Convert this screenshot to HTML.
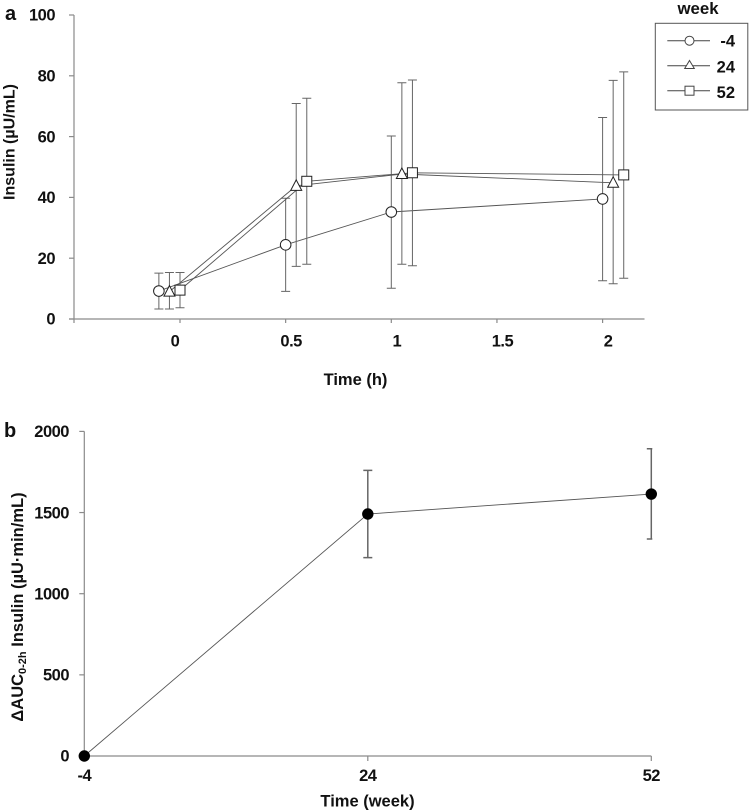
<!DOCTYPE html>
<html lang="en">
<head>
<meta charset="utf-8">
<title>Insulin over time</title>
<style>
html,body{margin:0;padding:0;background:#fff;width:750px;height:812px;overflow:hidden}
svg{display:block;position:absolute;left:0;top:0;filter:blur(0.35px)}
text{font-family:"Liberation Sans",sans-serif;font-weight:bold;fill:#111}
.tick-text{letter-spacing:-0.5px}
</style>
</head>
<body>
<svg id="fig" width="750" height="812" viewBox="0 0 750 812" xmlns="http://www.w3.org/2000/svg">
  <text x="5" y="20" font-size="20">a</text>
  <text x="4" y="437" font-size="20">b</text>
  <text x="355.5" y="385" font-size="16.5" text-anchor="middle">Time (h)</text>
  <text transform="translate(14.5,142) rotate(-90)" font-size="16" text-anchor="middle">Insulin (µU/mL)</text>
  <text x="367.5" y="806.5" font-size="16.5" text-anchor="middle">Time (week)</text>
  <text transform="translate(23,607) rotate(-90)" font-size="16.5" text-anchor="middle">ΔAUC<tspan font-size="11" dy="3">0-2h</tspan><tspan dy="-3"> Insulin (µU·min/mL)</tspan></text>

  <g>
    <text x="698" y="14" font-size="16.8" text-anchor="middle">week</text>
    <rect x="655.3" y="23.3" width="92.5" height="86.7" fill="#fff" stroke="#555" stroke-width="1"/>
    <g>
      <line x1="667.3" y1="40.7" x2="710" y2="40.7" stroke="#444" stroke-width="1"/>
      <circle cx="689.5" cy="40.7" r="4.5" fill="#fff" stroke="#444" stroke-width="1"/>
      <text x="735" y="46.7" font-size="16.5" text-anchor="end">-4</text>
    </g>
    <g>
      <line x1="667.3" y1="65.7" x2="710" y2="65.7" stroke="#444" stroke-width="1"/>
      <polygon points="689.5,60.5 694.3,68.5 684.7,68.5" fill="#fff" stroke="#444" stroke-width="1"/>
      <text x="735" y="72.7" font-size="16.5" text-anchor="end">24</text>
    </g>
    <g>
      <line x1="667.3" y1="90.7" x2="710" y2="90.7" stroke="#444" stroke-width="1"/>
      <rect x="685" y="86.2" width="9" height="9" fill="#fff" stroke="#444" stroke-width="1"/>
      <text x="735" y="98" font-size="16.5" text-anchor="end">52</text>
    </g>
  </g>
</svg>
<script>
// Panel a data
const aYTicks = [0, 20, 40, 60, 80, 100];
const aXTicks = [0, 0.5, 1, 1.5, 2];
const weekLabels = ['-4', '24', '52'];
const timesWeekMinus4 = [-0.1, 0.5, 1, 2];
const timesWeek24 = [-0.05, 0.55, 1.05, 2.05];
const timesWeek52 = [0, 0.6, 1.1, 2.1];
const insulinWeekMinus4 = [9.2, 24.4, 35.2, 39.5];
const insulinWeek24 = [9.0, 43.8, 47.7, 44.8];
const insulinWeek52 = [9.5, 45.3, 48.1, 47.4];
const upperWeekMinus4 = [15.1, 39.7, 60.2, 66.3];
const lowerWeekMinus4 = [3.3, 9.1, 10.1, 12.6];
const upperWeek24 = [15.3, 70.9, 77.7, 78.5];
const lowerWeek24 = [3.3, 17.3, 18.0, 11.6];
const upperWeek52 = [15.3, 72.6, 78.6, 81.3];
const lowerWeek52 = [3.7, 18.0, 17.5, 13.4];

// Panel b data
const bYTicks = [0, 500, 1000, 1500, 2000];
const bCategories = ['-4', '24', '52'];
const aucValues = [0, 1491, 1614];
const aucUpper = [0, 1760, 1893];
const aucLower = [0, 1222, 1337];

const NS = 'http://www.w3.org/2000/svg';
const fig = document.getElementById('fig');

function make(tag, attrs, parent) {
  const n = document.createElementNS(NS, tag);
  for (const k in attrs) n.setAttribute(k, attrs[k]);
  (parent || fig).appendChild(n);
  return n;
}

// Axis functions
const ax = t => 180 + t * 211.3;
const ay = v => 319 - v * 3.04;
const bx = i => 84.3 + i * 283.5;
const by = v => 756 - v * 0.1623;

const axisStroke = '#8a8a8a';

// ---------- Panel a axes ----------
const aAxes = make('g', {});


const aYLine = make('line', {x1: 74, y1: ay(100), x2: 74, y2: ay(0) + 4, stroke: axisStroke, 'stroke-width': 1.2}, aAxes);


const aXLine = make('line', {x1: 69, y1: ay(0), x2: 644.5, y2: ay(0), stroke: axisStroke, 'stroke-width': 1.2}, aAxes);



aYTicks.forEach(v => {
  const tick = make('line', {x1: 69, y1: ay(v), x2: 74, y2: ay(v), stroke: axisStroke, 'stroke-width': 1.2}, aAxes);
  
  
  const label = make('text', {x: 55, y: ay(v) + 5.7, 'font-size': 16.5, 'text-anchor': 'end', class: 'tick-text'}, aAxes);
  
  
  label.textContent = v;
});
aXTicks.forEach(t => {
  const tick = make('line', {x1: ax(t), y1: ay(0), x2: ax(t), y2: ay(0) + 4, stroke: axisStroke, 'stroke-width': 1.2}, aAxes);
  
  
  const label = make('text', {x: ax(t) + (t === 0 ? -5 : 5.5), y: 346.7, 'font-size': 16.5, 'text-anchor': 'middle', class: 'tick-text'}, aAxes);
  
  
  label.textContent = t;
});

// ---------- Panel a series ----------
const seriesTimes = [timesWeekMinus4, timesWeek24, timesWeek52];
const seriesValues = [insulinWeekMinus4, insulinWeek24, insulinWeek52];
const seriesUpper = [upperWeekMinus4, upperWeek24, upperWeek52];
const seriesLower = [lowerWeekMinus4, lowerWeek24, lowerWeek52];

seriesValues.forEach((vals, s) => {
  const group = make('g', {});
  
  
  const pts = vals.map((v, i) => ax(seriesTimes[s][i]) + ',' + ay(v)).join(' ');
  const line = make('polyline', {points: pts, fill: 'none', stroke: '#555', 'stroke-width': 0.9}, group);
  
  
  vals.forEach((v, i) => {
    const x = ax(seriesTimes[s][i]);
    const hi = ay(seriesUpper[s][i]);
    const lo = ay(seriesLower[s][i]);
    const bar = make('path', {
      d: 'M' + x + ' ' + hi + 'V' + lo + 'M' + (x - 4.5) + ' ' + hi + 'H' + (x + 4.5) + 'M' + (x - 4.5) + ' ' + lo + 'H' + (x + 4.5),
      fill: 'none', stroke: '#666', 'stroke-width': 1
    }, group);
    
    
  });
});
seriesValues.forEach((vals, s) => {
  vals.forEach((v, i) => {
    const x = ax(seriesTimes[s][i]);
    const y = ay(v);
    let mark;
    if (s === 0) {
      mark = make('circle', {cx: x, cy: y, r: 5.3, fill: '#fff', stroke: '#222', 'stroke-width': 1});
    } else if (s === 1) {
      mark = make('polygon', {points: x + ',' + (y - 6) + ' ' + (x + 5.5) + ',' + (y + 4.5) + ' ' + (x - 5.5) + ',' + (y + 4.5), fill: '#fff', stroke: '#222', 'stroke-width': 1});
    } else {
      mark = make('rect', {x: x - 5, y: y - 5, width: 10, height: 10, fill: '#fff', stroke: '#222', 'stroke-width': 1});
    }
    
    
  });
});

// ---------- Panel b axes ----------
const bAxes = make('g', {});


const bYLine = make('line', {x1: bx(0), y1: by(2000), x2: bx(0), y2: by(0), stroke: axisStroke, 'stroke-width': 1.2}, bAxes);


const bXLine = make('line', {x1: bx(0), y1: by(0), x2: bx(2), y2: by(0), stroke: axisStroke, 'stroke-width': 1.2}, bAxes);



bYTicks.forEach(v => {
  const tick = make('line', {x1: bx(0) - 5, y1: by(v), x2: bx(0), y2: by(v), stroke: axisStroke, 'stroke-width': 1.2}, bAxes);
  
  
  const label = make('text', {x: 69, y: by(v) + 5.7, 'font-size': 16.5, 'text-anchor': 'end', class: 'tick-text'}, bAxes);
  
  
  label.textContent = v;
});
bCategories.forEach((c, i) => {
  const tick = make('line', {x1: bx(i), y1: by(0), x2: bx(i), y2: by(0) + 5, stroke: axisStroke, 'stroke-width': 1.2}, bAxes);
  
  
  const label = make('text', {x: bx(i), y: 781, 'font-size': 16.5, 'text-anchor': 'middle', class: 'tick-text'}, bAxes);
  
  
  label.textContent = c;
});

// ---------- Panel b series ----------
const bGroup = make('g', {});


const bLine = make('polyline', {points: aucValues.map((v, i) => bx(i) + ',' + by(v)).join(' '), fill: 'none', stroke: '#555', 'stroke-width': 0.9}, bGroup);


aucValues.forEach((v, i) => {
  if (aucUpper[i] !== aucLower[i]) {
    const x = bx(i);
    const right = i === aucValues.length - 1 ? x + 1 : x + 4.5;
    const hi = by(aucUpper[i]);
    const lo = by(aucLower[i]);
    const bar = make('path', {
      d: 'M' + x + ' ' + hi + 'V' + lo + 'M' + (x - 4.5) + ' ' + hi + 'H' + right + 'M' + (x - 4.5) + ' ' + lo + 'H' + right,
      fill: 'none', stroke: '#666', 'stroke-width': 1.5
    }, bGroup);
    
    
  }
  const dot = make('circle', {cx: bx(i), cy: by(v), r: 5.7, fill: '#000'}, bGroup);
  
  
});
</script>
</body>
</html>
